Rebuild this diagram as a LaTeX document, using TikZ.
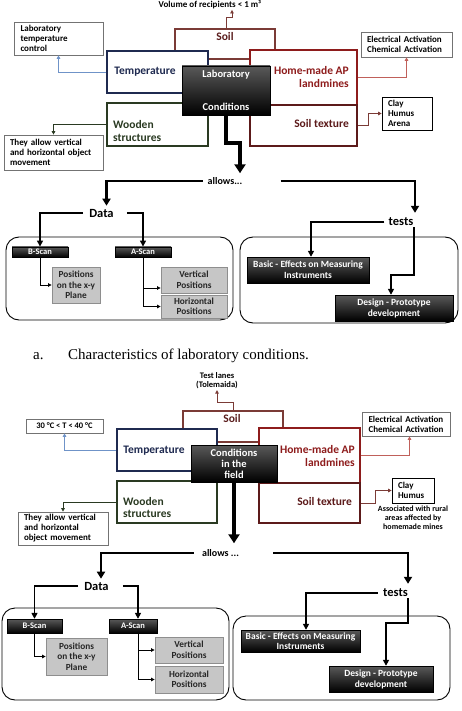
\documentclass[tikz,border=0pt]{standalone}
\usepackage{fontspec}
\setmainfont{Liberation Serif}
\newfontfamily\calib{Carlito}
\usetikzlibrary{arrows.meta,calc}

\definecolor{tempnavy}{HTML}{1F2A50}
\definecolor{soilbrown}{HTML}{7B3B36}
\definecolor{soiltext}{HTML}{5B1E1E}
\definecolor{minered}{HTML}{8E1C1C}
\definecolor{texturered}{HTML}{5C1A1A}
\definecolor{woodgreen}{HTML}{2A3A22}
\definecolor{tempblue}{HTML}{6F93C8}
\definecolor{actred}{HTML}{C0605A}
\definecolor{greyfill}{HTML}{C6C6C6}
\definecolor{greyline}{HTML}{8E8E8E}

\tikzset{
  boxframe/.style={draw=#1, fill=white, line width=1.6pt, inner sep=0pt},
  note/.style={draw=black!55, fill=white, line width=0.7pt, inner xsep=6pt, inner ysep=0pt,
    align=left, font=\calib\bfseries\fontsize{9}{10}\selectfont},
  darkbox/.style={top color=black!65, middle color=black, bottom color=black, draw=black,
    text=white, inner sep=0pt, align=center, font=\calib\bfseries\fontsize{8.5}{10}\selectfont},
  greybox/.style={fill=greyfill, draw=greyline, line width=0.8pt, text=black!85, inner sep=0pt,
    align=center, font=\calib\bfseries\fontsize{9.3}{10.5}\selectfont},
  panel/.style={draw, line width=0.9pt, rounded corners=13pt, inner sep=0pt},
  lbl/.style={inner sep=0pt, font=\calib\bfseries\fontsize{11.5}{12.5}\selectfont},
  grouplabel/.style={inner xsep=6pt, inner ysep=1pt, font=\calib\bfseries\fontsize{12.5}{14}\selectfont},
  allowslabel/.style={inner ysep=1pt, font=\calib\bfseries\fontsize{10}{12}\selectfont},
  pointer/.style={line width=0.8pt, -{Triangle[width=3.5pt,length=3.5pt]}},
  flow/.style={line width=1.8pt, -{Triangle[width=6pt,length=6pt]}},
  trunk/.style={line width=2.6pt, -{Triangle[width=8pt,length=7pt]}},
  bigflow/.style={line width=3.6pt, -{Triangle[width=11pt,length=9pt]}},
}

\begin{document}
\begin{tikzpicture}[x=1pt,y=-1pt]
    \fill[white] (0,0) rectangle (461,711);
    \useasboundingbox (0,0) rectangle (461,711);

    % a. laboratory conditions
    \node[boxframe=soilbrown, minimum width=100pt, minimum height=30pt] (soil) at (225,44) {};
    \node[lbl, text=soiltext] (soilT) at (225,37) {Soil};
    \node[inner sep=1pt, font=\calib\bfseries\fontsize{9}{10}\selectfont] (vol) at (210,4.5) {Volume of recipients < 1 m³};
    \node[boxframe=tempnavy, minimum width=101pt, minimum height=42pt] (temp) at (157.5,72) {};
    \node[lbl, text=tempnavy] (tempT) at (145,72) {Temperature};
    \node[boxframe=minered, minimum width=107pt, minimum height=55pt] (mine) at (303.5,77.5) {};
    \node[lbl, text=minered, align=right, anchor=east] (mineT) at (349,77) {Home-made AP\\landmines};
    \node[boxframe=texturered, minimum width=107pt, minimum height=41pt] (texture) at (303.5,125.5) {};
    \node[lbl, text=texturered, anchor=east] (textureT) at (349,124) {Soil texture};
    \node[boxframe=woodgreen, minimum width=101pt, minimum height=43pt] (wood) at (157.5,124.5) {};
    \node[lbl, text=woodgreen, align=left, anchor=west] (woodT) at (113,131) {Wooden\\structures};
    \node[darkbox, minimum width=88pt, minimum height=49pt, font=\calib\bfseries\fontsize{10.5}{12}\selectfont] (lab) at (226,90.5) {Laboratory\\[21pt]Conditions};

    \node[note, minimum width=89pt, minimum height=33pt, text width=76pt] (labnote) at (58.5,38.5) {Laboratory\\temperature\\control};
    \node[note, minimum width=89pt, minimum height=25pt, text width=79pt] (act) at (406.5,44.5) {Electrical Activation\\Chemical Activation};
    \node[note, draw=black, minimum width=50pt, minimum height=33pt, text width=38pt] (clay) at (407,113.5) {Clay\\Humus\\Arena};
    \node[note, minimum width=99pt, minimum height=35pt, text width=87pt] (move) at (53.5,152.5) {They allow vertical\\and horizontal object\\movement};

    \draw[pointer, soilbrown] ([xshift=1pt]soil.north) -- ++(0,-11) -| ([xshift=22pt]vol.south);
    \draw[pointer, tempblue] (temp.west) -| (labnote.south);
    \draw[pointer, actred] (mine.east) -| (act.south);
    \draw[pointer, soilbrown] (texture.east) -- ++(11,0) |- (clay.west);
    \draw[pointer, woodgreen] (wood.west) -| (move.north);

    \node[allowslabel, inner xsep=5pt] (allows) at (225,181) {allows...};
    \draw[bigflow] (lab.south) -- ++(0,28) -| ([xshift=15pt,yshift=3pt]allows.north);
    \node[grouplabel] (data) at (101.5,213) {Data};
    \node[grouplabel, inner xsep=4pt] (tests) at (401,222) {tests};
    \draw[trunk] (allows.west) -| ([xshift=5pt,yshift=2pt]data.north);
    \draw[trunk] ([xshift=33pt]allows.east) -| ([xshift=14pt,yshift=4pt]tests.north);

    \node[panel, minimum width=227pt, minimum height=83pt] (datagrp) at (119.5,278.5) {};
    \node[panel, minimum width=218pt, minimum height=86pt] (testgrp) at (349,280) {};
    \node[darkbox, minimum width=56pt, minimum height=10.5pt] (bscan) at (40,252) {B-Scan};
    \node[darkbox, minimum width=56pt, minimum height=10.5pt] (ascan) at (143,252) {A-Scan};
    \node[greybox, minimum width=48pt, minimum height=36pt] (plane) at (76,285) {Positions\\on the x-y\\Plane};
    \node[greybox, minimum width=66pt, minimum height=26pt] (vert) at (194,280) {Vertical\\Positions};
    \node[greybox, minimum width=66pt, minimum height=23pt] (horiz) at (194,306.5) {Horizontal\\Positions};
    \draw[flow] (data.west) -| (bscan.north);
    \draw[flow] ([xshift=7pt]data.east) -| (ascan.north);
    \draw[pointer] (bscan.south) |- (plane.west);
    \draw[pointer] (ascan.south) |- ([yshift=-8pt]vert.west);
    \draw[pointer] (ascan.south) |- (horiz.west);

    \node[darkbox, minimum width=122pt, minimum height=26pt, font=\calib\bfseries\fontsize{9.5}{11}\selectfont] (basic) at (308,270) {Basic - Effects on Measuring\\Instruments};
    \node[darkbox, minimum width=118pt, minimum height=26pt, font=\calib\bfseries\fontsize{9.5}{11}\selectfont] (design) at (394,308) {Design - Prototype\\development};
    \draw[flow] (tests.west) -| ([xshift=3pt]basic.north);
    \draw[flow] ([xshift=13pt]tests.south) -- ++(0,48) -| ([xshift=-3pt]design.north);

    \node[anchor=base west, inner sep=0pt, font=\fontsize{15}{17}\selectfont] (capA) at (33,359) {a.};
    \node[anchor=base west, inner sep=0pt, font=\fontsize{15}{17}\selectfont] (capT) at (68,359) {Characteristics of laboratory conditions.};

    % b. conditions in the field
    \node[boxframe=soilbrown, minimum width=100pt, minimum height=31pt] (soilB) at (233,426.5) {};
    \node[lbl, text=soiltext] (soilBT) at (232,419) {Soil};
    \node[align=center, inner sep=1pt, font=\calib\bfseries\fontsize{8.5}{9.5}\selectfont] (lanes) at (217,380.5) {Test lanes\\(Tolemaida)};
    \node[boxframe=tempnavy, minimum width=100pt, minimum height=42pt] (tempB) at (167,450) {};
    \node[lbl, text=tempnavy] (tempBT) at (154,451) {Temperature};
    \node[boxframe=minered, minimum width=101pt, minimum height=55pt] (mineB) at (309.5,455.5) {};
    \node[lbl, text=minered, align=right, anchor=east] (mineBT) at (355,456) {Home-made AP\\landmines};
    \node[boxframe=texturered, minimum width=101pt, minimum height=40pt] (textureB) at (309.5,503) {};
    \node[lbl, text=texturered, anchor=east] (textureBT) at (352,502) {Soil texture};
    \node[boxframe=woodgreen, minimum width=100pt, minimum height=42pt] (woodB) at (167,502) {};
    \node[lbl, text=woodgreen, align=left, anchor=west] (woodBT) at (123,507.5) {Wooden\\structures};
    \node[darkbox, minimum width=86pt, minimum height=37pt, font=\calib\bfseries\fontsize{10.5}{11}\selectfont] (field) at (234,463.5) {Conditions\\in the\\field};

    \node[note, minimum width=77pt, minimum height=14pt, align=center, font=\calib\bfseries\fontsize{8.5}{10}\selectfont] (range) at (64.5,426) {30 °C < T < 40 °C};
    \node[note, minimum width=85pt, minimum height=24pt, text width=76pt] (actB) at (406.5,424) {Electrical Activation\\Chemical Activation};
    \node[note, draw=black, minimum width=42pt, minimum height=25pt, text width=30pt] (clayB) at (413,490.5) {Clay\\Humus};
    \node[align=center, inner sep=0pt, font=\calib\bfseries\fontsize{8}{9}\selectfont] (rural) at (413,517.5) {Associated with rural\\areas affected by\\homemade mines};
    \node[note, minimum width=88pt, minimum height=33pt, text width=78pt] (moveB) at (63,528.5) {They allow vertical\\and horizontal\\object movement};

    \draw[pointer, soilbrown] (soilB.north) -- ++(0,-8) -| (lanes.south);
    \draw[pointer, tempblue] (tempB.west) -| (range.south);
    \draw[pointer, actred] (mineB.east) -| ([xshift=3pt]actB.south);
    \draw[pointer, soilbrown] (textureB.east) -- ++(15,0) |- (clayB.west);
    \draw[pointer, woodgreen] (woodB.west) -| (moveB.north);

    \node[allowslabel, inner xsep=8pt] (allowsB) at (220.5,553) {allows ...};
    \draw[bigflow] (field.south) -- ([yshift=5pt]field.south |- allowsB.north);
    \node[grouplabel] (dataB) at (96.5,586) {Data};
    \node[grouplabel, inner xsep=5pt] (testsB) at (395.5,593) {tests};
    \draw[trunk] (allowsB.west) -| ([xshift=4.5pt,yshift=2pt]dataB.north);
    \draw[trunk] ([xshift=26pt]allowsB.east) -| ([xshift=12.5pt,yshift=4pt]testsB.north);

    \node[panel, minimum width=227pt, minimum height=92pt] (datagrpB) at (115.5,654) {};
    \node[panel, minimum width=217pt, minimum height=84pt] (testgrpB) at (341.5,658) {};
    \node[darkbox, minimum width=55pt, minimum height=14pt] (bscanB) at (34.5,626) {B-Scan};
    \node[darkbox, minimum width=48pt, minimum height=14pt] (ascanB) at (133,626) {A-Scan};
    \node[greybox, minimum width=61pt, minimum height=37pt] (planeB) at (76.5,656.5) {Positions\\on the x-y\\Plane};
    \node[greybox, minimum width=68pt, minimum height=26pt] (vertB) at (189,650) {Vertical\\Positions};
    \node[greybox, minimum width=68pt, minimum height=27pt] (horizB) at (189,679.5) {Horizontal\\Positions};
    \draw[flow] (dataB.west) -| (bscanB.north);
    \draw[flow] ([xshift=8pt]dataB.east) -| ([xshift=5pt]ascanB.north);
    \draw[pointer] (bscanB.south) |- (planeB.west);
    \draw[pointer] ([xshift=5pt]ascanB.south) |- (vertB.west);
    \draw[pointer] ([xshift=5pt]ascanB.south) |- (horizB.west);

    \node[darkbox, minimum width=119pt, minimum height=22pt, font=\calib\bfseries\fontsize{9.5}{10}\selectfont] (basicB) at (300.5,641) {Basic - Effects on Measuring\\Instruments};
    \node[darkbox, minimum width=104pt, minimum height=26pt, font=\calib\bfseries\fontsize{9.5}{11}\selectfont] (designB) at (381,679) {Design - Prototype\\development};
    \draw[flow] (testsB.west) -| ([xshift=5.5pt]basicB.north);
    \draw[flow] ([xshift=12.5pt]testsB.south) -- ++(0,25) -| ([xshift=5pt]designB.north);
\end{tikzpicture}
\end{document}
